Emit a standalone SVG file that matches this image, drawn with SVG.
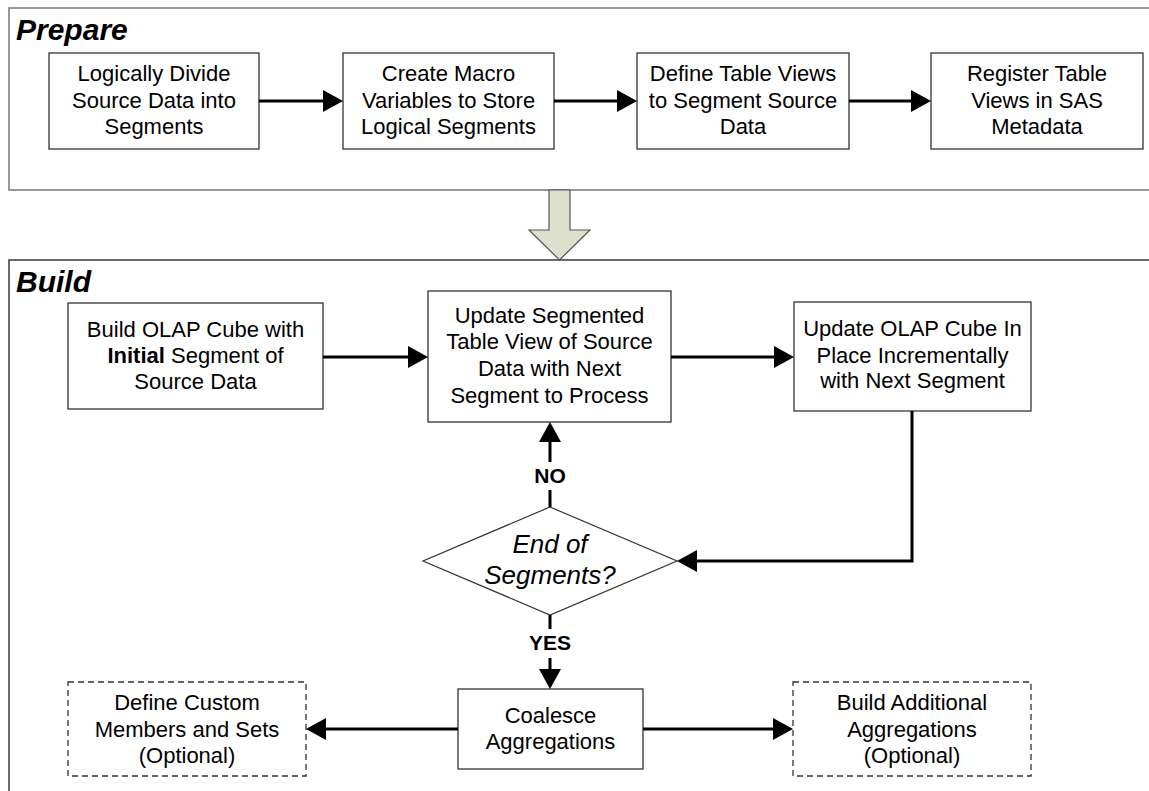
<svg xmlns="http://www.w3.org/2000/svg" width="1149" height="791" viewBox="0 0 1149 791">
<style>
.panel{fill:#fff;stroke-width:1.6}
.box{fill:#fff;stroke:#333;stroke-width:1.3}
.dash{fill:#fff;stroke:#333;stroke-width:1.3;stroke-dasharray:6 4}
.t{font-family:"Liberation Sans",Arial,sans-serif;font-size:22px;fill:#000;text-anchor:middle}
.title{font-family:"Liberation Sans",Arial,sans-serif;font-size:30px;font-weight:bold;font-style:italic;fill:#000}
.lbl{font-family:"Liberation Sans",Arial,sans-serif;font-size:21px;font-weight:bold;fill:#000;text-anchor:middle}
.it{font-family:"Liberation Sans",Arial,sans-serif;font-size:26px;font-style:italic;fill:#000;text-anchor:middle}
.c{fill:none;stroke:#000;stroke-width:3}
</style>
<defs>
<marker id="ah" markerUnits="userSpaceOnUse" markerWidth="22" markerHeight="24" refX="2" refY="11" orient="auto">
<path d="M0,0 L20,11 L0,22 z" fill="#000"/>
</marker>
</defs>
<rect width="1149" height="791" fill="#fff"/>

<g id="prepare-panel">
<rect class="panel" x="9" y="8" width="1160" height="182" stroke="#808080"/>
<text class="title" x="16" y="40">Prepare</text>
</g>

<g id="build-panel">
<rect class="panel" x="9" y="260" width="1160" height="560" stroke="#444"/>
<text class="title" x="16" y="292">Build</text>
</g>

<g id="phase-arrow">
<path d="M549,190 H570 V230 H590 L559.5,260 L529,230 H549 Z" fill="#dde0cb" stroke="#555" stroke-width="1.2"/>
</g>

<g id="n1">
<rect class="box" x="49" y="53" width="210" height="96"/>
<text class="t" x="154" y="81">Logically Divide</text>
<text class="t" x="154" y="108">Source Data into</text>
<text class="t" x="154" y="134">Segments</text>
</g>
<g id="n2">
<rect class="box" x="343" y="53" width="211" height="96"/>
<text class="t" x="448.5" y="81">Create Macro</text>
<text class="t" x="448.5" y="108">Variables to Store</text>
<text class="t" x="448.5" y="134">Logical Segments</text>
</g>
<g id="n3">
<rect class="box" x="637" y="53" width="212" height="96"/>
<text class="t" x="743" y="81">Define Table Views</text>
<text class="t" x="743" y="108">to Segment Source</text>
<text class="t" x="743" y="134">Data</text>
</g>
<g id="n4">
<rect class="box" x="931" y="53" width="212" height="96" stroke="#555"/>
<text class="t" x="1037" y="81">Register Table</text>
<text class="t" x="1037" y="108">Views in SAS</text>
<text class="t" x="1037" y="134">Metadata</text>
</g>

<g id="b1">
<rect class="box" x="68" y="303" width="255" height="106"/>
<text class="t" x="195.5" y="337">Build OLAP Cube with</text>
<text class="t" x="195.5" y="363"><tspan font-weight="bold">Initial</tspan> Segment of</text>
<text class="t" x="195.5" y="389">Source Data</text>
</g>
<g id="b2">
<rect class="box" x="428" y="291" width="243" height="131"/>
<text class="t" x="549.5" y="323">Update Segmented</text>
<text class="t" x="549.5" y="349">Table View of Source</text>
<text class="t" x="549.5" y="376">Data with Next</text>
<text class="t" x="549.5" y="403">Segment to Process</text>
</g>
<g id="b3">
<rect class="box" x="794" y="302" width="237" height="109"/>
<text class="t" x="912.5" y="336">Update OLAP Cube In</text>
<text class="t" x="912.5" y="363">Place Incrementally</text>
<text class="t" x="912.5" y="388">with Next Segment</text>
</g>
<g id="decision">
<polygon points="550,507 677,561 550,615 423,561" fill="#fff" stroke="#333" stroke-width="1.2"/>
<text class="it" x="550" y="553">End of</text>
<text class="it" x="550" y="584">Segments?</text>
</g>
<g id="coalesce">
<rect class="box" x="458" y="689" width="185" height="80"/>
<text class="t" x="550.5" y="723">Coalesce</text>
<text class="t" x="550.5" y="749">Aggregations</text>
</g>
<g id="custom">
<rect class="dash" x="68" y="682" width="238" height="94"/>
<text class="t" x="187" y="710">Define Custom</text>
<text class="t" x="187" y="737">Members and Sets</text>
<text class="t" x="187" y="763">(Optional)</text>
</g>
<g id="additional">
<rect class="dash" x="793" y="682" width="238" height="94"/>
<text class="t" x="912" y="710">Build Additional</text>
<text class="t" x="912" y="737">Aggregations</text>
<text class="t" x="912" y="763">(Optional)</text>
</g>

<g id="connectors">
<path class="c" d="M259,101 H325" marker-end="url(#ah)"/>
<path class="c" d="M554,101 H619" marker-end="url(#ah)"/>
<path class="c" d="M849,101 H913" marker-end="url(#ah)"/>
<path class="c" d="M323,357 H410" marker-end="url(#ah)"/>
<path class="c" d="M671,357 H776" marker-end="url(#ah)"/>
<path class="c" d="M912,411 V561 H695" marker-end="url(#ah)"/>
<path class="c" d="M550,507 V490"/>
<path class="c" d="M550,462 V440" marker-end="url(#ah)"/>
<text class="lbl" x="550" y="483">NO</text>
<path class="c" d="M550,615 V629"/>
<path class="c" d="M550,658 V671" marker-end="url(#ah)"/>
<text class="lbl" x="550" y="650">YES</text>
<path class="c" d="M458,729 H324" marker-end="url(#ah)"/>
<path class="c" d="M643,729 H775" marker-end="url(#ah)"/>
</g>
</svg>
